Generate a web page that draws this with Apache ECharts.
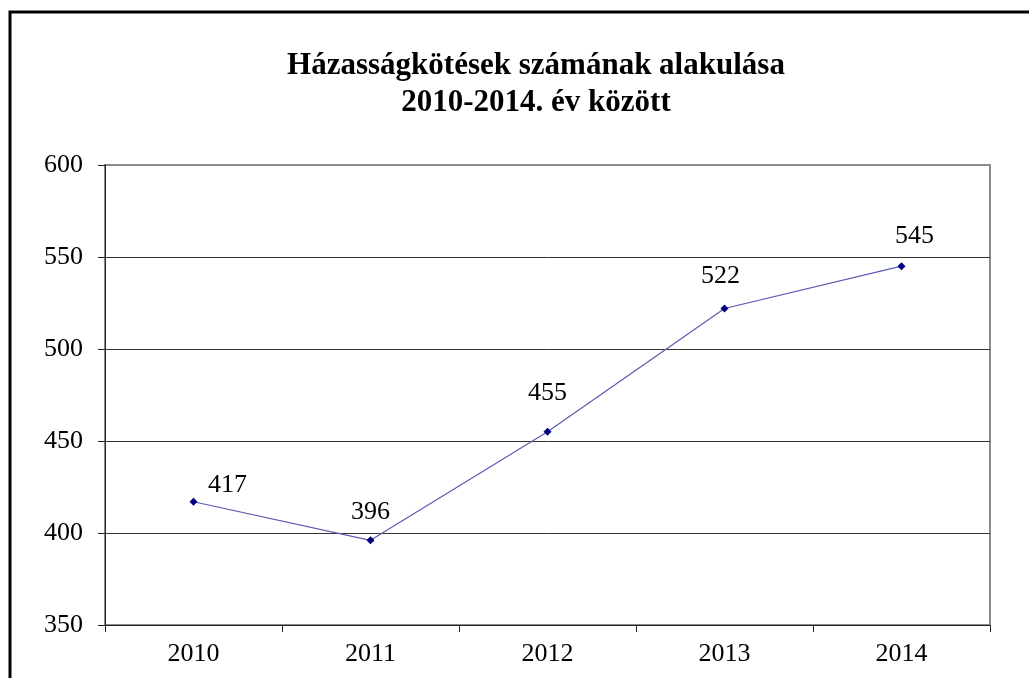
<!DOCTYPE html>
<html>
<head>
<meta charset="utf-8">
<script src="https://cdn.jsdelivr.net/npm/echarts@6/dist/echarts.min.js"></script>
<style>
  html, body { margin: 0; padding: 0; background: #fff; }
  #main { width: 1029px; height: 678px; }
</style>
</head>
<body>
<div id="main"></div>
<script>
// years and number of marriages
var years = ["2010", "2011", "2012", "2013", "2014"];
var marriages = [417, 396, 455, 522, 545];
var yTicks = [350, 400, 450, 500, 550, 600];

// label nudges (px) relative to each point
var labelShift = [[34, -17], [0, -28], [0, -39], [-4, -32], [13, -30]];

var serif = "'Liberation Serif', 'Times New Roman', serif";

var points = [];
for (var i = 0; i < marriages.length; i++) {
    points.push({
        value: marriages[i],
        label: { offset: labelShift[i] }
    });
}

var chart = echarts.init(document.getElementById("main"));

var option = {
    backgroundColor: "#fff",
    animation: false,
    title: {
        text: "Házasságkötések számának alakulása\n2010-2014. év között",
        left: 531,
        top: 42,
        textAlign: "center",
        textStyle: {
            fontFamily: serif,
            fontWeight: "bold",
            fontSize: 31,
            lineHeight: 37,
            color: "#000"
        }
    },
    graphic: [{
        type: "rect",
        shape: { x: 10, y: 12, width: 1040, height: 700 },
        style: { fill: null, stroke: "#000", lineWidth: 3 },
        z: 100
    }],
    grid: {
        left: 105,
        right: 39,
        top: 165,
        bottom: 53,
        show: true,
        borderColor: "#8c8c8c",
        borderWidth: 2,
        backgroundColor: "#fff"
    },
    xAxis: {
        type: "category",
        data: years,
        boundaryGap: true,
        axisLine: { lineStyle: { color: "#222", width: 1 } },
        axisTick: { show: true, length: 7, lineStyle: { color: "#222" } },
        axisLabel: {
            margin: 16,
            fontFamily: serif,
            fontSize: 26,
            color: "#000"
        },
        splitLine: { show: false }
    },
    yAxis: {
        type: "value",
        min: yTicks[0],
        max: yTicks[yTicks.length - 1],
        interval: 50,
        axisLine: { show: true, lineStyle: { color: "#222", width: 1 } },
        axisTick: { show: true, length: 7, lineStyle: { color: "#222" } },
        axisLabel: {
            margin: 22,
            fontFamily: serif,
            fontSize: 26,
            color: "#000"
        },
        splitLine: {
            show: true,
            showMaxLine: false,
            lineStyle: { color: "#333", width: 1 }
        }
    },
    series: [{
        type: "line",
        data: points,
        symbol: "diamond",
        symbolSize: 8,
        itemStyle: { color: "#000080" },
        lineStyle: { color: "#5a5ab4", width: 1.2 },
        label: {
            show: true,
            position: "inside",
            fontFamily: serif,
            fontSize: 26,
            color: "#000"
        }
    }]
};

chart.setOption(option);
</script>
</body>
</html>
